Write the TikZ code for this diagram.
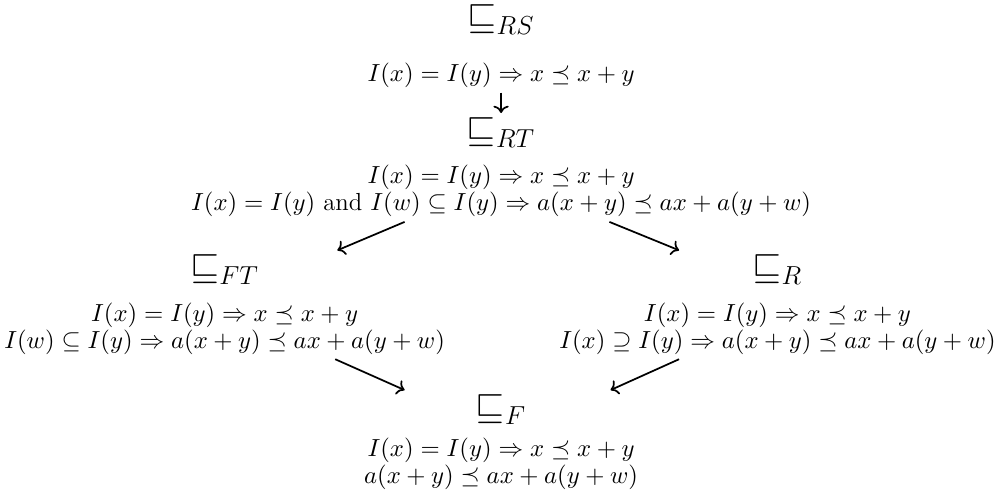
\RequirePackage{fix-cm}
\documentclass[tikz,border=0pt]{standalone}
\usepackage{amsmath,amssymb}
\usepackage{tikz}
\usetikzlibrary{positioning,arrows.meta,calc}

\begin{document}
\begin{tikzpicture}[
  ord/.style={
    align=center, inner sep=2pt,
    font=\fontsize{11.4pt}{12.5pt}\selectfont
  },
  flow/.style={->, thick}
]

% ---- orders ---------------------------------------------------------------
\node[ord] (rs) {
  {\LARGE $\sqsubseteq_{RS}$}\\[12pt]
  $I(x)=I(y)\Rightarrow x\preceq x+y$
};

\node[ord, below=3.3mm of rs] (rt) {
  {\LARGE $\sqsubseteq_{RT}$}\\[7pt]
  $I(x)=I(y)\Rightarrow x\preceq x+y$\\
  $I(x)=I(y)$ and $I(w)\subseteq I(y)\Rightarrow a(x+y)\preceq ax+a(y+w)$
};

\node[ord, below=4.6mm of rt, xshift=-127.5pt] (ft) {
  {\LARGE $\sqsubseteq_{FT}$}\\[7pt]
  $I(x)=I(y)\Rightarrow x\preceq x+y$\\
  $I(w)\subseteq I(y)\Rightarrow a(x+y)\preceq ax+a(y+w)$
};

\node[ord, below=4.6mm of rt, xshift=127.5pt] (r) {
  {\LARGE $\sqsubseteq_{R}$}\\[7pt]
  $I(x)=I(y)\Rightarrow x\preceq x+y$\\
  $I(x)\supseteq I(y)\Rightarrow a(x+y)\preceq ax+a(y+w)$
};

\node[ord, below=5mm of ft.south -| rt.south, anchor=north] (f) {
  {\LARGE $\sqsubseteq_{F}$}\\[5pt]
  $I(x)=I(y)\Rightarrow x\preceq x+y$\\
  $a(x+y)\preceq ax+a(y+w)$
};

% ---- arrows ---------------------------------------------------------------
\draw[flow] (rs) -- (rt);
\draw[flow] ([xshift=-44.5pt]rt.south) -- ([xshift=52pt]ft.north);
\draw[flow] ([xshift=50pt]rt.south)    -- ([xshift=-45.4pt]r.north);
\draw[flow] ([xshift=51pt]ft.south)    -- ([xshift=-44.5pt]f.north);
\draw[flow] ([xshift=-45.4pt]r.south)  -- ([xshift=50.5pt]f.north);

\path[use as bounding box] ([xshift=-230.7pt]rs.north)
  rectangle ([xshift=228pt, yshift=-227.5pt]rs.north);

\end{tikzpicture}
\end{document}
